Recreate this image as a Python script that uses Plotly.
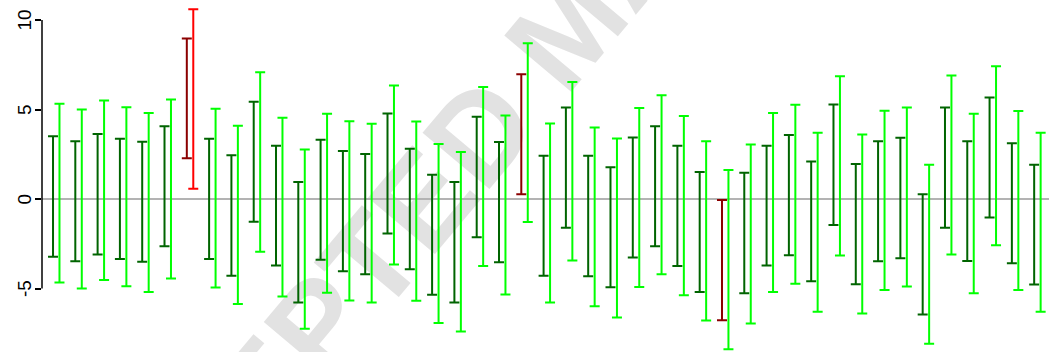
import plotly.graph_objects as go

# Interval bounds for each of the 45 items: inner (dark) and outer (light) intervals
inner_hi = [3.51, 3.22, 3.63, 3.36, 3.20, 4.07, 8.96, 3.36, 2.44, 5.43,
            2.97, 0.95, 3.31, 2.68, 2.51, 4.78, 2.81, 1.36, 0.95, 4.59,
            3.18, 6.97, 2.42, 5.11, 2.42, 1.78, 3.44, 4.07, 2.97, 1.51,
            -0.06, 1.47, 2.97, 3.57, 2.10, 5.28, 1.95, 3.23, 3.42, 0.26,
            5.11, 3.23, 5.67, 3.12, 1.91]
inner_lo = [-3.22, -3.48, -3.10, -3.35, -3.51, -2.64, 2.27, -3.35, -4.29, -1.27,
            -3.72, -5.78, -3.40, -4.03, -4.20, -1.93, -3.92, -5.35, -5.78, -2.14,
            -3.53, 0.26, -4.29, -1.60, -4.31, -4.93, -3.27, -2.64, -3.74, -5.20,
            -6.77, -5.26, -3.72, -3.14, -4.59, -1.45, -4.76, -3.48, -3.31, -6.45,
            -1.60, -3.46, -1.04, -3.59, -4.78]
outer_hi = [5.32, 5.00, 5.50, 5.13, 4.81, 5.56, 10.60, 5.04, 4.09, 7.08,
            4.54, 2.77, 4.76, 4.35, 4.20, 6.34, 4.33, 3.07, 2.62, 6.26,
            4.67, 8.70, 4.22, 6.54, 4.00, 3.38, 5.08, 5.80, 4.63, 3.22,
            1.62, 3.05, 4.81, 5.26, 3.70, 6.86, 3.60, 4.93, 5.11, 1.91,
            6.90, 4.76, 7.42, 4.91, 3.70]
outer_lo = [-4.67, -5.00, -4.52, -4.87, -5.19, -4.44, 0.57, -4.95, -5.87, -2.94,
            -5.45, -7.25, -5.24, -5.67, -5.78, -3.66, -5.69, -6.93, -7.40, -3.74,
            -5.34, -1.28, -5.78, -3.44, -5.99, -6.62, -4.91, -4.20, -5.37, -6.79,
            -8.40, -6.95, -5.19, -4.74, -6.30, -3.16, -6.40, -5.09, -4.89, -8.09,
            -3.10, -5.26, -2.58, -5.09, -6.30]

y_ticks = [-5, 0, 5, 10]
y_ticktext = ["-5", "0", "5", "10"]

positions = list(range(1, len(inner_hi) + 1))
offset = 0.145
FONT = "Liberation Sans, Arial, sans-serif"


def excludes_zero(lo, hi, i):
    return lo[i] > 0 or hi[i] < 0


def interval_trace(idx, lo, hi, dx, color):
    xs = [positions[i] + dx for i in idx]
    mids = [(hi[i] + lo[i]) / 2 for i in idx]
    half = [(hi[i] - lo[i]) / 2 for i in idx]
    return go.Scatter(
        x=xs, y=mids, mode="markers",
        marker=dict(size=1, color="rgba(0,0,0,0)"),
        error_y=dict(type="data", array=half, symmetric=True,
                     color=color, thickness=2, width=5),
        hoverinfo="skip", showlegend=False,
    )


fig = go.Figure()
for lo, hi, dx, c_ok, c_sig in [
    (inner_lo, inner_hi, -offset, "#006400", "#8B0000"),
    (outer_lo, outer_hi, offset, "#00FF00", "#FF0000"),
]:
    sig = [i for i in range(len(positions)) if excludes_zero(lo, hi, i)]
    ok = [i for i in range(len(positions)) if not excludes_zero(lo, hi, i)]
    fig.add_trace(interval_trace(ok, lo, hi, dx, c_ok))
    if sig:
        fig.add_trace(interval_trace(sig, lo, hi, dx, c_sig))

shapes = [
    # axis line running only between the outer ticks
    dict(type="line", xref="paper", yref="y", x0=0, x1=0, y0=-5, y1=10,
         line=dict(color="black", width=1.5), layer="above"),
    # faint diagonal stamp behind everything
    dict(type="rect", xref="paper", yref="paper",
         x0=0.5034, x1=0.5234, y0=0.931, y1=0.961,
         line=dict(width=0), fillcolor="rgba(0,0,0,0)", layer="below",
         label=dict(text="<b>ACCEPTED MANUSCRIPT</b>", textangle=-50,
                    textposition="middle center",
                    font=dict(family=FONT, size=127, color="#e2e2e2"))),
]

# rotated value labels beside the left axis
annotations = [
    dict(x=-0.005, y=v, xref="paper", yref="y", text=t, showarrow=False,
         textangle=-90, xanchor="right", yanchor="middle",
         font=dict(family=FONT, size=19, color="black"))
    for v, t in zip(y_ticks, y_ticktext)
]

fig.update_layout(
    width=1049, height=352,
    margin=dict(l=42, r=0, t=0, b=0),
    plot_bgcolor="white", paper_bgcolor="white",
    font=dict(family=FONT, color="black"),
    shapes=shapes, annotations=annotations,
    xaxis=dict(range=[0.361, 45.52], showgrid=False, zeroline=False,
               showticklabels=False, ticks="", showline=False),
    yaxis=dict(range=[-8.547, 11.117], showgrid=False,
               zeroline=True, zerolinecolor="#b3b3b3", zerolinewidth=2,
               showline=False, tickmode="array", tickvals=y_ticks,
               ticks="outside", ticklen=6, tickwidth=1.5, tickcolor="black",
               showticklabels=False),
)

fig.write_html("out.html")
